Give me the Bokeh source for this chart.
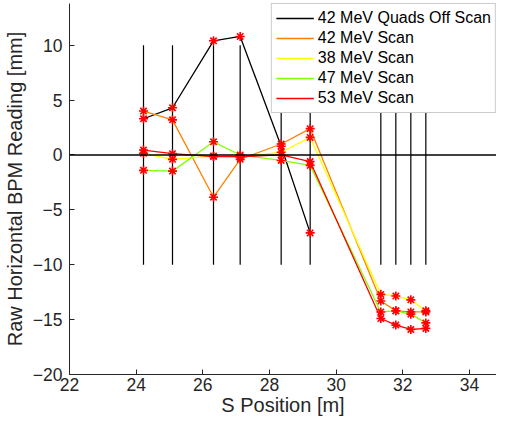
from bokeh.plotting import figure
from bokeh.models import Span, Legend, LegendItem, FixedTicker
from bokeh.embed import file_html
from bokeh.resources import INLINE

# BPM positions [m]
s_left = [24.22, 25.09, 26.32, 27.12, 28.35, 29.22]
s_right = [31.34, 31.79, 32.24, 32.69]
s_all = s_left + s_right

# Vertical BPM marker extent [mm]
bpm_line_lo = -10
bpm_line_hi = 10

# Series [mm]
quads_off_42 = [3.3, 4.3, 10.4, 10.8, 0.8, -7.1]
scan_42 = [4.0, 3.2, -3.85, -0.4, 1.0, 2.4, -13.3, -14.2, -14.3, -14.3]
scan_38 = [0.15, -0.4, -0.1, -0.2, 0.25, 1.6, -12.7, -12.85, -13.2, -14.2]
scan_47 = [-1.4, -1.47, 1.2, 0.0, -0.5, -0.95, -14.3, -14.2, -14.5, -15.3]
scan_53 = [0.45, 0.12, -0.15, -0.15, 0.0, -0.6, -14.9, -15.5, -15.9, -15.8]

series_names = ["42 MeV Quads Off Scan", "42 MeV Scan", "38 MeV Scan", "47 MeV Scan", "53 MeV Scan"]
series_colors = ["#000000", "#FF8000", "#FFFF00", "#80FF00", "#FF0000"]

x_ticks = [22, 24, 26, 28, 30, 32, 34]
y_ticks = [-20, -15, -10, -5, 0, 5, 10]

FONT = "Liberation Sans"
AX = "#262626"

p = figure(width=496, height=418, x_range=(22, 34.81), y_range=(-20, 13.8),
           output_backend="svg", toolbar_location=None,
           min_border_left=68, min_border_right=0, min_border_top=3, min_border_bottom=44)
p.outline_line_color = None
p.grid.visible = False
p.background_fill_color = "white"

for ax in (p.xaxis[0], p.yaxis[0]):
    ax.axis_line_color = AX
    ax.major_tick_line_color = AX
    ax.minor_tick_line_color = None
    ax.major_tick_in = 5
    ax.major_tick_out = 0
    ax.major_label_text_font = FONT
    ax.major_label_text_font_size = "17.5px"
    ax.major_label_text_color = AX
    ax.axis_label_text_font = FONT
    ax.axis_label_text_font_size = "20px"
    ax.axis_label_text_font_style = "normal"
    ax.axis_label_text_color = AX

p.xaxis.ticker = FixedTicker(ticks=x_ticks)
p.yaxis.ticker = FixedTicker(ticks=y_ticks)
p.xaxis.axis_label = "S Position [m]"
p.yaxis.axis_label = "Raw Horizontal BPM Reading [mm]"
p.xaxis.major_label_standoff = 3
p.yaxis.major_label_standoff = 7
p.xaxis.axis_label_standoff = 0
p.yaxis.axis_label_standoff = 4

# vertical BPM lines and zero line
p.segment(x0=s_all, y0=[bpm_line_lo] * len(s_all), x1=s_all, y1=[bpm_line_hi] * len(s_all),
          line_color="black", line_width=1.2)
p.add_layout(Span(location=0, dimension="width", line_color="black", line_width=1.5))

series = [(s_left, quads_off_42), (s_all, scan_42), (s_all, scan_38), (s_all, scan_47), (s_all, scan_53)]
items = []
for (xs, ys), name, col in zip(series, series_names, series_colors):
    r = p.line(xs, ys, line_color=col, line_width=1.3)
    p.scatter(xs, ys, marker="asterisk", size=9, line_color="#FF0000", line_width=1.6)
    items.append(LegendItem(label=name, renderers=[r]))

legend = Legend(items=items, location="top_right")
legend.label_text_font = FONT
legend.label_text_font_size = "16px"
legend.label_text_color = "black"
legend.glyph_width = 38
legend.glyph_height = 20
legend.label_height = 20
legend.spacing = 0
legend.padding = 4
legend.margin = 0
legend.label_standoff = 4
legend.border_line_color = "#999999"
legend.background_fill_color = "white"
legend.background_fill_alpha = 1.0
p.add_layout(legend)

open("out.html", "w").write(file_html(p, INLINE))
